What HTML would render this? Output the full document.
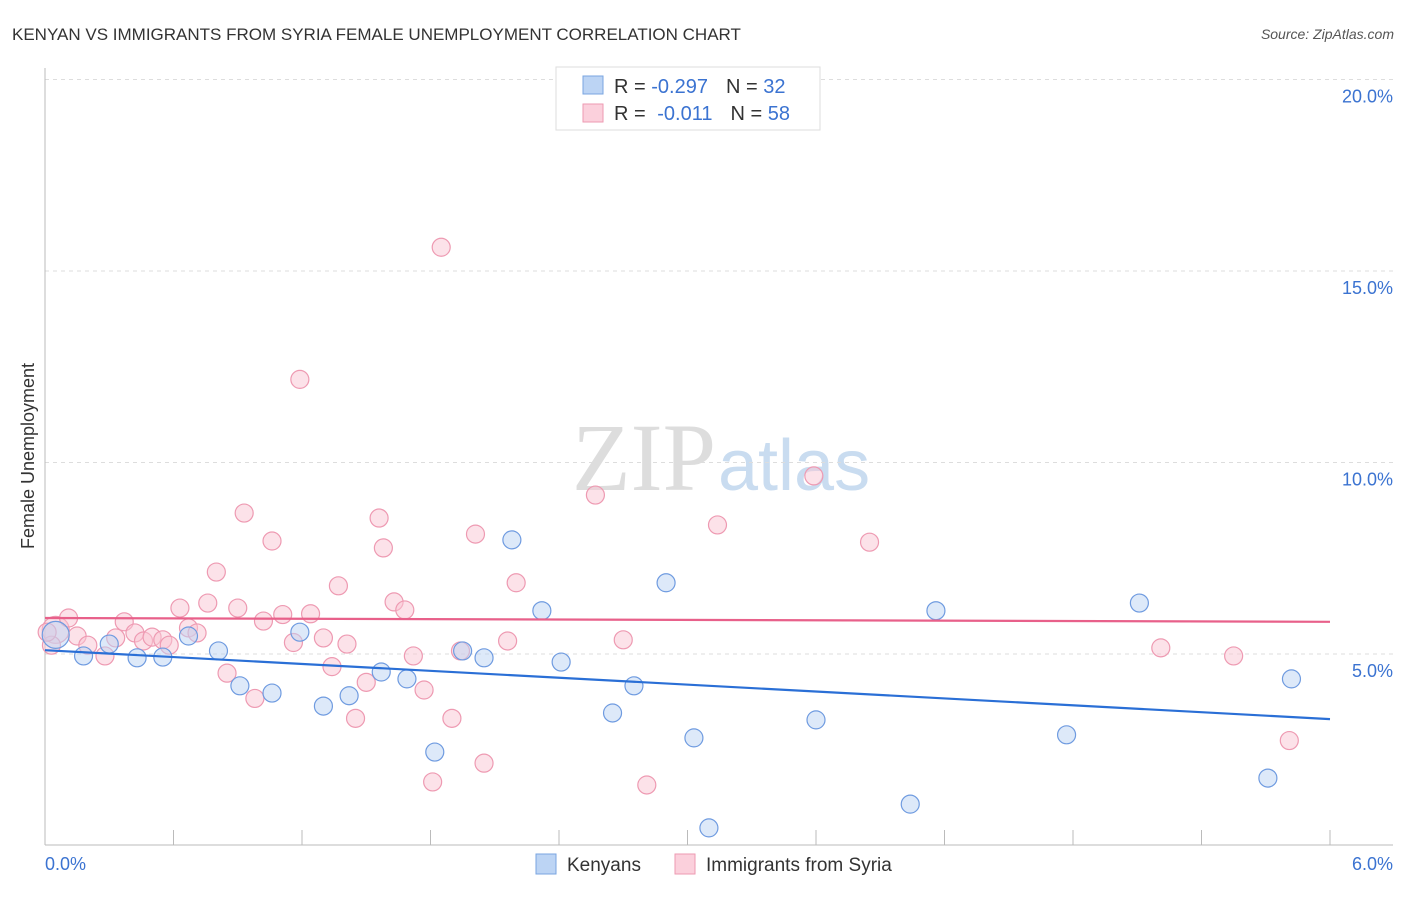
<!DOCTYPE html>
<html><head><meta charset="utf-8"><style>
body{margin:0;background:#fff;font-family:"Liberation Sans",sans-serif}
svg text{font-family:"Liberation Sans",sans-serif}
</style></head><body>
<svg id="c" width="1406" height="892" xmlns="http://www.w3.org/2000/svg">
<text x="12" y="40" font-size="17" fill="#333">KENYAN VS IMMIGRANTS FROM SYRIA FEMALE UNEMPLOYMENT CORRELATION CHART</text>
<text x="1394" y="39" font-size="14" fill="#555" font-style="italic" text-anchor="end">Source: ZipAtlas.com</text>
<text x="716" y="490" font-size="96" fill="#ddd" text-anchor="end" style="font-family:'Liberation Serif',serif">ZIP</text>
<text x="718" y="490" font-size="72" fill="#c9dcf0">atlas</text>
<g id="grid"></g>
<line x1="45" y1="68" x2="45" y2="845" stroke="#bbb"/>
<line x1="45" y1="845" x2="1393" y2="845" stroke="#bbb"/>
<text x="34" y="456" font-size="18" fill="#333" transform="rotate(-90 34 456)" text-anchor="middle">Female Unemployment</text>
<text x="45" y="870" font-size="18" fill="#3b73d1">0.0%</text>
<text x="1393" y="870" font-size="18" fill="#3b73d1" text-anchor="end">6.0%</text>
<g id="pts"></g>
<g id="lines"></g>
<g>
<rect x="556" y="67" width="264" height="63" fill="#fff" stroke="#ddd"/>
<rect x="583" y="76" width="20" height="18" fill="#bcd4f4" stroke="#7aa5e0"/>
<rect x="583" y="104" width="20" height="18" fill="#fbd0dc" stroke="#ee9ab2"/>
<text x="614" y="93" font-size="20" fill="#333">R = <tspan fill="#3b73d1">-0.297</tspan><tspan dx="18">N = </tspan><tspan fill="#3b73d1">32</tspan></text>
<text x="614" y="120" font-size="20" fill="#333">R = <tspan fill="#3b73d1" dx="6">-0.011</tspan><tspan dx="18">N = </tspan><tspan fill="#3b73d1">58</tspan></text>
</g>
<g>
<rect x="536" y="854" width="20" height="20" fill="#bcd4f4" stroke="#7aa5e0"/>
<text x="567" y="871" font-size="19" fill="#333">Kenyans</text>
<rect x="675" y="854" width="20" height="20" fill="#fbd0dc" stroke="#ee9ab2"/>
<text x="706" y="871" font-size="19" fill="#333">Immigrants from Syria</text>
</g>
</svg>
<script>
const yTicks=[5,10,15,20];
const xTicks=[0,0.6,1.2,1.8,2.4,3.0,3.6,4.2,4.8,5.4,6.0];
const blueX=[0.05,0.18,0.30,0.43,0.55,0.67,0.81,0.91,1.06,1.19,1.30,1.42,1.57,1.69,1.82,1.95,2.05,2.18,2.32,2.41,2.65,2.75,2.90,3.03,3.10,3.60,4.04,4.16,4.77,5.11,5.71,5.82];
const blueY=[5.50,4.95,5.26,4.90,4.92,5.47,5.08,4.17,3.98,5.57,3.64,3.91,4.53,4.35,2.44,5.08,4.90,7.98,6.13,4.79,3.46,4.17,6.86,2.81,0.46,3.28,1.08,6.13,2.89,6.33,1.76,4.35];
const pinkX=[0.05,0.03,0.11,0.15,0.20,0.28,0.33,0.37,0.42,0.46,0.50,0.55,0.58,0.63,0.67,0.71,0.76,0.80,0.85,0.90,0.93,0.98,1.02,1.06,1.11,1.16,1.19,1.24,1.30,1.34,1.37,1.41,1.45,1.50,1.56,1.58,1.63,1.68,1.72,1.77,1.81,1.85,1.90,1.94,2.01,2.05,2.16,2.20,2.57,2.70,2.81,3.14,3.59,3.85,5.21,5.55,5.81,0.01];
const pinkY=[5.63,5.23,5.94,5.47,5.23,4.95,5.42,5.84,5.55,5.34,5.44,5.37,5.23,6.20,5.68,5.55,6.33,7.14,4.50,6.20,8.68,3.84,5.86,7.95,6.03,5.30,12.17,6.05,5.42,4.67,6.78,5.26,3.32,4.26,8.55,7.77,6.36,6.15,4.95,4.06,1.66,15.62,3.32,5.08,8.13,2.15,5.34,6.86,9.15,5.37,1.58,8.37,9.65,7.92,5.16,4.95,2.74,5.57];
const blueTrend=[5.10,3.30];
const pinkTrend=[5.94,5.84];
const NS='http://www.w3.org/2000/svg';
const X=v=>45+v/6*1285, Y=v=>845.5-v*38.3;
function mk(t,a,p){const e=document.createElementNS(NS,t);for(const k in a)e.setAttribute(k,a[k]);document.getElementById(p).appendChild(e);return e;}
yTicks.forEach(t=>{
 const l=mk('line',{x1:45,x2:1393,y1:Y(t),y2:Y(t),stroke:'#ddd','stroke-dasharray':'4,4'},'grid');
 
 
 const tx=mk('text',{x:1393,y:Y(t)+23,'font-size':18,fill:'#3b73d1','text-anchor':'end'},'grid');
 tx.textContent=t.toFixed(1)+'%';
 
 
});
xTicks.forEach(t=>{
 const l=mk('line',{x1:X(t),x2:X(t),y1:830,y2:845,stroke:'#bbb'},'grid');
 
 
});
function pts(xs,ys,fill,stroke,name){xs.forEach((x,i)=>{
 const r=(i===0&&x<0.1)?13.5:9;
 const c=mk('circle',{cx:X(x),cy:Y(ys[i]),r:r,fill:fill,'fill-opacity':0.5,stroke:stroke,'stroke-width':1.2},'pts');
 
 
});}
pts(pinkX,pinkY,'#f9c6d4','#ee9ab2','syria-point');
pts(blueX,blueY,'#bcd4f4','#6f9be0','kenyan-point');
const bl=mk('line',{x1:X(0),y1:Y(blueTrend[0]),x2:X(6),y2:Y(blueTrend[1]),stroke:'#2a6fd6','stroke-width':2.2},'lines');


const pl=mk('line',{x1:X(0),y1:Y(pinkTrend[0]),x2:X(6),y2:Y(pinkTrend[1]),stroke:'#e8608a','stroke-width':2.2},'lines');


</script>
</body></html>
